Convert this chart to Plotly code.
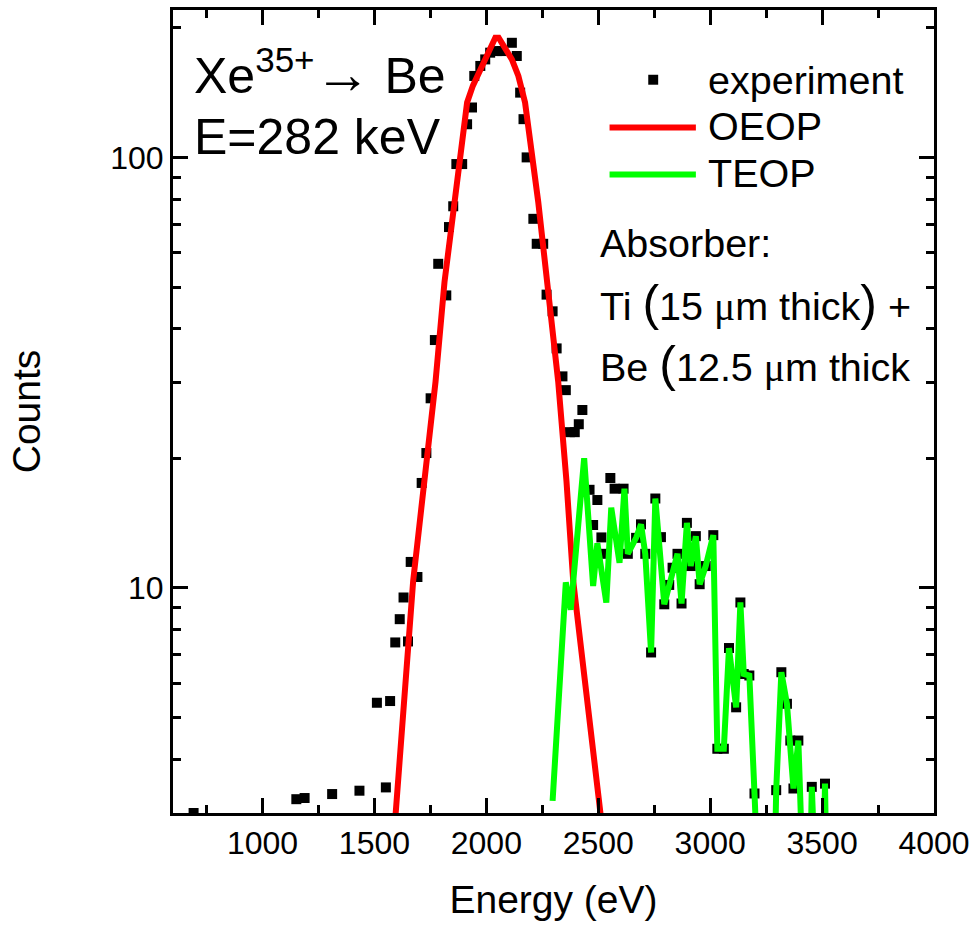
import plotly.graph_objects as go

# ---- measured spectrum: Xe35+ -> Be, E = 282 keV ----
exp_energy = [692, 1151, 1188, 1311, 1433, 1511, 1551, 1570, 1593, 1613, 1630, 1650, 1662,
              1692, 1711, 1732, 1751, 1770, 1785, 1821, 1833, 1852, 1866, 1892, 1914, 1936,
              1946, 1973, 1995, 2017, 2047, 2069, 2114, 2136, 2151, 2166, 2180, 2210, 2225,
              2254, 2269, 2296, 2314, 2340, 2355, 2373, 2395, 2413, 2429, 2461, 2477, 2496,
              2514, 2521, 2554, 2573, 2613, 2632, 2669, 2691, 2710, 2736, 2755, 2780, 2795,
              2817, 2832, 2854, 2872, 2896, 2913, 2936, 2953, 2980, 3014, 3032, 3061, 3084,
              3116, 3135, 3150, 3175, 3198, 3295, 3318, 3343, 3358, 3372, 3394, 3454, 3513]
exp_counts = [3.0, 3.23, 3.25, 3.32, 3.38, 5.41, 3.44, 5.46, 7.47, 8.46, 9.5, 7.51, 11.49,
              10.6, 17.53, 20.57, 27.57, 37.65, 56.6, 47.8, 68.9, 77.0, 96.5, 96.5, 119.4, 130.6,
              154.6, 163.1, 168.9, 175.1, 176.6, 176.6, 184.6, 172.0, 141.4, 122.7, 100.0, 72.0, 63.0,
              63.0, 48.0, 43.9, 36.0, 31.0, 28.8, 23.0, 23.0, 24.0, 25.9, 16.9, 14.0, 16.0,
              13.1, 12.0, 18.0, 17.0, 17.0, 12.0, 13.07, 14.05, 12.0, 7.08, 16.13, 13.12, 9.16,
              10.16, 11.14, 12.0, 9.2, 14.16, 11.24, 13.19, 10.2, 11.24, 13.26, 4.23, 4.23, 7.25,
              5.28, 9.25, 6.31, 6.26, 3.33, 3.39, 6.37, 5.38, 4.42, 3.42, 4.42, 3.45, 3.51]

# ---- one-electron (OEOP) contribution ----
oeop_energy = [1580, 1595, 1673, 1721, 1773, 1813, 1857, 1914, 1940, 1973, 2003, 2040,
               2055, 2114, 2143, 2173, 2232, 2281, 2321, 2358, 2388, 2414, 2439, 2505, 2520]
oeop_counts = [2.7, 3.0, 10.38, 17.69, 30.15, 51.36, 78.67, 134.1, 146.8, 160.1, 175.1, 189.6,
               189.6, 168.9, 154.6, 134.1, 78.67, 46.17, 30.15, 17.69, 10.38, 7.95, 6.09, 3.0, 2.7]

# ---- two-electron (TEOP) contribution ----
teop_energy = [2296, 2355, 2377, 2437, 2477, 2496, 2536, 2558, 2595, 2617, 2632, 2669, 2691,
               2710, 2736, 2755, 2795, 2817, 2832, 2854, 2872, 2896, 2913, 2936, 2953, 2980,
               3014, 3032, 3061, 3084, 3116, 3135, 3150, 3175, 3198, 3220, 3240, 3260, 3275,
               3295, 3318, 3343, 3358, 3372, 3394, 3415, 3435, 3454, 3475, 3495, 3513, 3530]
teop_counts = [3.2, 10.3, 8.9, 20.0, 10.1, 12.7, 9.25, 15.35, 11.44, 17.0, 12.0, 13.07, 14.05,
               12.0, 7.08, 16.13, 9.16, 10.16, 11.14, 12.0, 9.2, 14.16, 11.24, 13.19, 10.2, 11.24,
               13.26, 4.23, 4.23, 7.25, 5.28, 9.25, 6.31, 6.26, 3.33, 1, 1, 1, 1,
               3.39, 6.37, 5.38, 4.42, 3.42, 4.42, 1, 1, 3.45, 1, 1, 3.51, 1]

x_ticks = [1000, 1500, 2000, 2500, 3000, 3500, 4000]
x_minor = [750, 1250, 1750, 2250, 2750, 3250, 3750]
y_ticks = [10, 100]
y_minor = [4, 5, 6, 7, 8, 9, 20, 30, 40, 50, 60, 70, 80, 90, 200]

FONT = "Liberation Sans, Arial, sans-serif"
W, H = 977, 926
L, R, T, B = 173, 37, 7, 113


def px(x):
    return (x - L) / (W - L - R)


def py(y):
    return (H - B - y) / (H - T - B)


fig = go.Figure()

fig.add_trace(go.Scatter(
    x=exp_energy, y=exp_counts, mode="markers", name="experiment",
    marker=dict(symbol="square", size=10, color="black", line=dict(width=0)),
    showlegend=False))
fig.add_trace(go.Scatter(
    x=oeop_energy, y=oeop_counts, mode="lines", name="OEOP",
    line=dict(color="#ff0000", width=6), showlegend=False))
fig.add_trace(go.Scatter(
    x=teop_energy, y=teop_counts, mode="lines", name="TEOP",
    line=dict(color="#00ff00", width=6), showlegend=False))

axis_common = dict(
    showline=True, linecolor="black", linewidth=3, mirror="allticks",
    ticks="inside", ticklen=15, tickwidth=3, tickcolor="black",
    showgrid=False, zeroline=False,
    tickfont=dict(family=FONT, size=32, color="black"),
)

fig.update_xaxes(
    range=[600, 4000], tickmode="array", tickvals=x_ticks,
    minor=dict(tickmode="array", tickvals=x_minor, ticks="inside", ticklen=8,
               tickwidth=3, tickcolor="black"),
    title=dict(text="Energy (eV)", font=dict(family=FONT, size=39, color="black"), standoff=26),
    **axis_common)
fig.update_yaxes(
    type="log", range=[0.47712, 2.3424], tickmode="array", tickvals=y_ticks,
    minor=dict(tickmode="array", tickvals=y_minor, ticks="inside", ticklen=8,
               tickwidth=3, tickcolor="black"),
    title=dict(text="Counts", font=dict(family=FONT, size=39, color="black"), standoff=58),
    **axis_common)

# legend drawn in the upper right corner
fig.add_shape(type="rect", xref="paper", yref="paper",
              x0=px(652), x1=px(662), y0=py(82), y1=py(72),
              fillcolor="black", line=dict(width=0))
fig.add_shape(type="line", xref="paper", yref="paper",
              x0=px(613), x1=px(700), y0=py(125), y1=py(125),
              line=dict(color="#ff0000", width=6))
fig.add_shape(type="line", xref="paper", yref="paper",
              x0=px(613), x1=px(700), y0=py(172), y1=py(172),
              line=dict(color="#00ff00", width=6))

PAREN = "<span style='font-size:50px'>%s</span>"
MU = "<span style='font-family:Liberation Serif'>μ</span>"
notes = [
    ("experiment", 710, 77, 39.5),
    ("OEOP", 710, 123, 39.5),
    ("TEOP", 710, 171, 39.5),
    ("Absorber:", 601, 241, 39.5),
    ("Ti " + PAREN % "(" + "15 " + MU + "m thick" + PAREN % ")" + " +", 601, 301, 39.5),
    ("Be " + PAREN % "(" + "12.5 " + MU + "m thick", 601, 362, 39.5),
    ("Xe<sup>35+</sup><span style='font-size:56px'>→</span> Be", 192, 70, 50),
    ("E=282 keV", 192, 134, 50),
]
for text, x, y, size in notes:
    fig.add_annotation(text=text, xref="paper", yref="paper", x=px(x), y=py(y),
                       xanchor="left", yanchor="middle", showarrow=False,
                       font=dict(family=FONT, size=size, color="black"))

fig.update_layout(
    width=W, height=H, autosize=False,
    margin=dict(l=L, r=R, t=T, b=B, pad=0),
    paper_bgcolor="white", plot_bgcolor="white",
    font=dict(family=FONT, color="black"),
)

fig.write_html("out.html")
